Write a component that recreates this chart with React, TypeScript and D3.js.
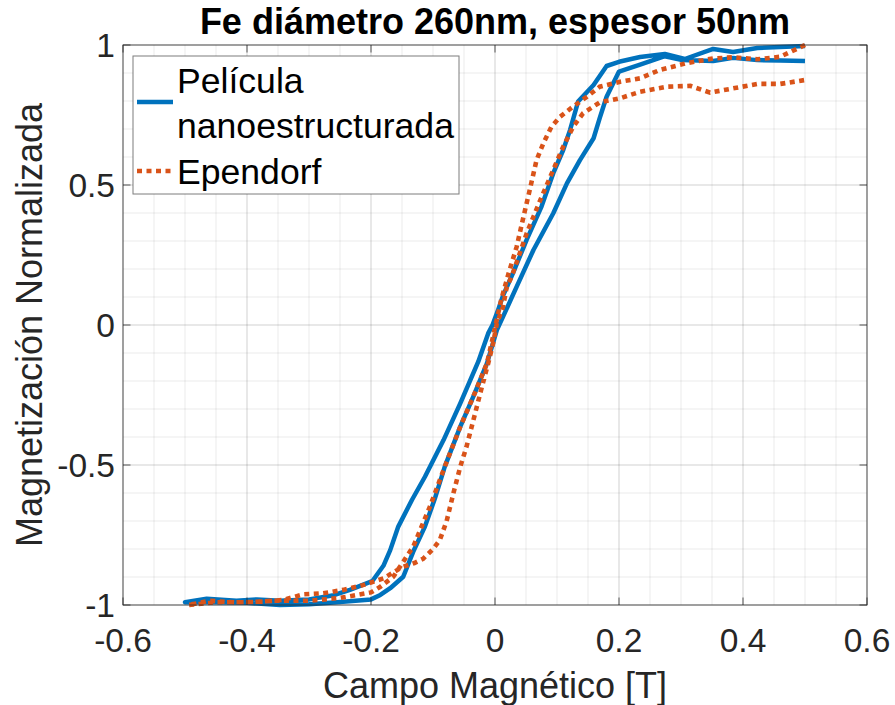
import React from "react";
import * as d3 from "d3";

// Hysteresis loops: normalized magnetization vs applied field [T]
// Película nanoestructurada (blue, solid)
const peliculaBajada: [number, number][] = [
  [0.5, 0.996], [0.46, 0.993], [0.423, 0.989], [0.384, 0.975], [0.352, 0.986],
  [0.306, 0.95], [0.274, 0.968], [0.234, 0.957], [0.2, 0.94], [0.18, 0.925],
  [0.159, 0.857], [0.134, 0.798], [0.121, 0.696], [0.11, 0.625], [0.094, 0.542],
  [0.075, 0.423], [0.051, 0.304], [0.029, 0.185], [0.013, 0.105], [0.006, 0.06],
  [-0.004, 0.0], [-0.011, -0.03], [-0.027, -0.131], [-0.056, -0.28], [-0.083, -0.411],
  [-0.113, -0.542], [-0.134, -0.625], [-0.156, -0.72], [-0.169, -0.804], [-0.18, -0.86],
  [-0.198, -0.915], [-0.234, -0.946], [-0.26, -0.965], [-0.3, -0.98], [-0.347, -0.985],
  [-0.384, -0.98], [-0.417, -0.985], [-0.465, -0.978], [-0.5, -0.99],
];
const peliculaSubida: [number, number][] = [
  [-0.5, -0.99], [-0.45, -0.99], [-0.4, -0.992], [-0.347, -1.0], [-0.3, -0.997],
  [-0.255, -0.99], [-0.2, -0.98], [-0.185, -0.964], [-0.169, -0.94], [-0.148, -0.899],
  [-0.132, -0.81], [-0.113, -0.72], [-0.097, -0.62], [-0.081, -0.506], [-0.056, -0.363],
  [-0.035, -0.256], [-0.013, -0.137], [0.003, -0.018], [0.013, 0.03], [0.035, 0.137],
  [0.062, 0.268], [0.094, 0.399], [0.116, 0.506], [0.137, 0.589], [0.159, 0.667],
  [0.169, 0.74], [0.18, 0.815], [0.2, 0.905], [0.234, 0.93], [0.274, 0.96],
  [0.302, 0.946], [0.352, 0.943], [0.384, 0.954], [0.423, 0.946], [0.46, 0.945],
  [0.5, 0.943],
];

// Ependorf (orange, dotted)
const ependorfBajada: [number, number][] = [
  [0.5, 1.0], [0.46, 0.958], [0.423, 0.949], [0.384, 0.956], [0.352, 0.952],
  [0.309, 0.935], [0.266, 0.911], [0.234, 0.881], [0.202, 0.869], [0.169, 0.851],
  [0.148, 0.815], [0.126, 0.78], [0.105, 0.744], [0.091, 0.708], [0.078, 0.649],
  [0.067, 0.589], [0.056, 0.482], [0.046, 0.387], [0.035, 0.28], [0.022, 0.185],
  [0.01, 0.09], [-0.002, -0.03], [-0.013, -0.137], [-0.035, -0.256], [-0.056, -0.363],
  [-0.081, -0.506], [-0.105, -0.649], [-0.132, -0.792], [-0.164, -0.899], [-0.185, -0.935],
  [-0.2, -0.955], [-0.25, -0.975], [-0.3, -0.985], [-0.36, -0.985], [-0.4, -0.99],
  [-0.45, -0.99], [-0.495, -1.0],
];
const ependorfSubida: [number, number][] = [
  [-0.495, -1.0], [-0.46, -0.985], [-0.417, -0.991], [-0.374, -0.988], [-0.342, -0.982],
  [-0.309, -0.962], [-0.277, -0.958], [-0.245, -0.946], [-0.213, -0.929], [-0.18, -0.905],
  [-0.15, -0.865], [-0.13, -0.85], [-0.116, -0.835], [-0.1, -0.8], [-0.089, -0.768],
  [-0.078, -0.7], [-0.067, -0.6], [-0.056, -0.506], [-0.046, -0.435], [-0.032, -0.315],
  [-0.021, -0.22], [-0.011, -0.137], [-0.003, -0.065], [0.003, 0.006], [0.013, 0.065],
  [0.019, 0.137], [0.027, 0.173], [0.051, 0.327], [0.073, 0.446], [0.094, 0.554],
  [0.11, 0.637], [0.126, 0.708], [0.142, 0.756], [0.169, 0.795], [0.202, 0.81],
  [0.234, 0.833], [0.277, 0.851], [0.315, 0.854], [0.347, 0.83], [0.384, 0.845],
  [0.423, 0.861], [0.46, 0.861], [0.5, 0.875],
];

const xTicks = [-0.6, -0.4, -0.2, 0, 0.2, 0.4, 0.6];
const yTicks = [-1, -0.5, 0, 0.5, 1];
const xMinor = d3.range(-0.6, 0.6001, 0.05);
const yMinor = d3.range(-1, 1.0001, 0.1);

const titleText = "Fe diámetro 260nm, espesor 50nm";
const xLabel = "Campo Magnético [T]";
const yLabel = "Magnetización Normalizada";
const legendItems = ["Película", "nanoestructurada", "Ependorf"];

const W = 895;
const H = 705;
const plot = { left: 123, right: 867, top: 45, bottom: 605 };
const FONT = "'Liberation Sans', Arial, Helvetica, sans-serif";
const AX = "#262626";
const BLUE = "#0072BD";
const ORANGE = "#D95319";

export default function App() {
  const x = d3.scaleLinear().domain([-0.6, 0.6]).range([plot.left, plot.right]);
  const y = d3.scaleLinear().domain([-1, 1]).range([plot.bottom, plot.top]);
  const line = d3
    .line<[number, number]>()
    .x((d) => x(d[0]))
    .y((d) => y(d[1]));

  const blueLoop = [...peliculaBajada, ...peliculaSubida.slice(1)];
  const orangeLoop = [...ependorfBajada, ...ependorfSubida.slice(1)];
  const tickLen = 7.5;
  const fmt = (v: number) => (Math.abs(v) < 1e-9 ? "0" : String(v));

  return (
    <svg
      width={W}
      height={H}
      style={{ position: "absolute", left: 0, top: 0, background: "#fff" }}
      fontFamily={FONT}
    >
      <rect x={0} y={0} width={W} height={H} fill="#fff" />
      {/* minor grid */}
      <g stroke="#262626" strokeOpacity={0.09} strokeWidth={1}>
        {xMinor.map((v, i) => (
          <line key={"xm" + i} x1={x(v)} x2={x(v)} y1={plot.top} y2={plot.bottom} />
        ))}
        {yMinor.map((v, i) => (
          <line key={"ym" + i} x1={plot.left} x2={plot.right} y1={y(v)} y2={y(v)} />
        ))}
      </g>
      {/* major grid */}
      <g stroke="#262626" strokeOpacity={0.12} strokeWidth={1}>
        {xTicks.map((v, i) => (
          <line key={"xg" + i} x1={x(v)} x2={x(v)} y1={plot.top} y2={plot.bottom} />
        ))}
        {yTicks.map((v, i) => (
          <line key={"yg" + i} x1={plot.left} x2={plot.right} y1={y(v)} y2={y(v)} />
        ))}
      </g>

      {/* data */}
      <path d={line(blueLoop) || ""} fill="none" stroke={BLUE} strokeWidth={4.5} strokeLinejoin="round" />
      <path
        d={line(orangeLoop) || ""}
        fill="none"
        stroke={ORANGE}
        strokeWidth={4.6}
        strokeDasharray="5,4.5"
      />

      {/* axes box and ticks */}
      <rect
        x={plot.left}
        y={plot.top}
        width={plot.right - plot.left}
        height={plot.bottom - plot.top}
        fill="none"
        stroke={AX}
        strokeOpacity={0.75}
        strokeWidth={1}
      />
      <g stroke={AX} strokeOpacity={0.75} strokeWidth={1}>
        {xTicks.map((v, i) => (
          <g key={"xt" + i}>
            <line x1={x(v)} x2={x(v)} y1={plot.bottom} y2={plot.bottom - tickLen} />
            <line x1={x(v)} x2={x(v)} y1={plot.top} y2={plot.top + tickLen} />
          </g>
        ))}
        {yTicks.map((v, i) => (
          <g key={"yt" + i}>
            <line x1={plot.left} x2={plot.left + tickLen} y1={y(v)} y2={y(v)} />
            <line x1={plot.right} x2={plot.right - tickLen} y1={y(v)} y2={y(v)} />
          </g>
        ))}
      </g>

      {/* tick labels */}
      <g fill={AX} fontSize={33.5}>
        {xTicks.map((v, i) => (
          <text key={"xl" + i} x={x(v)} y={652} textAnchor="middle">
            {fmt(v)}
          </text>
        ))}
        {yTicks.map((v, i) => (
          <text key={"yl" + i} x={115} y={y(v) + 12} textAnchor="end">
            {fmt(v)}
          </text>
        ))}
      </g>

      {/* axis labels and title */}
      <text x={(plot.left + plot.right) / 2} y={698} textAnchor="middle" fontSize={36} fill={AX}>
        {xLabel}
      </text>
      <text
        transform={`translate(42, ${(plot.top + plot.bottom) / 2}) rotate(-90)`}
        textAnchor="middle"
        fontSize={36}
        fill={AX}
      >
        {yLabel}
      </text>
      <text
        x={(plot.left + plot.right) / 2}
        y={34}
        textAnchor="middle"
        fontSize={36}
        fontWeight="bold"
        fill="#000"
      >
        {titleText}
      </text>

      {/* legend */}
      <rect x={133} y={56} width={326} height={138} fill="#fff" stroke={AX} strokeOpacity={0.6} strokeWidth={1} />
      <line x1={137} x2={173} y1={102} y2={102} stroke={BLUE} strokeWidth={4.5} />
      <line x1={137} x2={173} y1={171} y2={171} stroke={ORANGE} strokeWidth={4.6} strokeDasharray="5,4.5" />
      <g fontSize={35.6} fill="#000">
        <text x={177} y={93}>{legendItems[0]}</text>
        <text x={177} y={138}>{legendItems[1]}</text>
        <text x={177} y={184}>{legendItems[2]}</text>
      </g>
    </svg>
  );
}
